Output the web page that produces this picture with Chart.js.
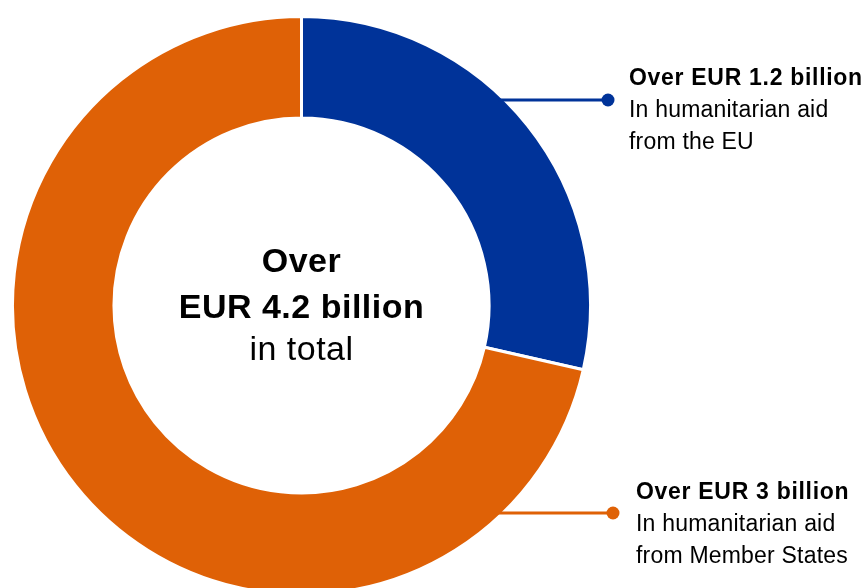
<!DOCTYPE html>
<html>
<head>
<meta charset="utf-8">
<script src="https://cdn.jsdelivr.net/npm/chart.js@4/dist/chart.umd.min.js"></script>
<style>
  html, body { margin: 0; padding: 0; background: #fff; }
  #wrap { width: 867px; height: 588px; position: relative; }
</style>
</head>
<body>
<div id="wrap"><canvas id="c"></canvas></div>
<script>
// ---- data ----
const categories = ["In humanitarian aid from the EU", "In humanitarian aid from Member States"];
const values = [1.2, 3];
const colors = ["#003399", "#df6106"];
const headlines = ["Over EUR 1.2 billion", "Over EUR 3 billion"];
const sublines = [["In humanitarian aid", "from the EU"], ["In humanitarian aid", "from Member States"]];
const centerLines = ["Over", "EUR 4.2 billion", "in total"];

const FONT = "'Liberation Sans', Arial, Helvetica, sans-serif";

const calloutPlugin = {
  id: 'callouts',
  afterDatasetsDraw(chart) {
    const ctx = chart.ctx;
    const meta = chart.getDatasetMeta(0);
    const arc0 = meta.data[0];
    const cx = arc0.x, cy = arc0.y, R = arc0.outerRadius;

    // centre text
    ctx.save();
    ctx.fillStyle = '#000';
    ctx.textAlign = 'center';
    ctx.textBaseline = 'alphabetic';
    ctx.letterSpacing = '0.5px';
    ctx.font = 'bold 34px ' + FONT;
    ctx.fillText(centerLines[0], cx, cy - 34);
    ctx.fillText(centerLines[1], cx, cy + 12);
    ctx.font = '34px ' + FONT;
    ctx.fillText(centerLines[2], cx, cy + 54.5);
    ctx.restore();

    // leader lines + labels
    const lineY = [100, 513];
    const dotX = [608, 613];
    const textX = [629, 636];
    const baseY = [85, 499];
    meta.data.forEach((arc, i) => {
      const y = lineY[i];
      const dy = y - cy;
      const x0 = cx + Math.sqrt(Math.max(R * R - dy * dy, 0)) - 6;
      ctx.save();
      ctx.strokeStyle = colors[i];
      ctx.fillStyle = colors[i];
      ctx.lineWidth = 3;
      ctx.beginPath();
      ctx.moveTo(x0, y);
      ctx.lineTo(dotX[i], y);
      ctx.stroke();
      ctx.beginPath();
      ctx.arc(dotX[i], y, 6.5, 0, Math.PI * 2);
      ctx.fill();
      ctx.fillStyle = '#000';
      ctx.textAlign = 'left';
      ctx.textBaseline = 'alphabetic';
      ctx.letterSpacing = '0.7px';
      ctx.font = 'bold 23px ' + FONT;
      ctx.fillText(headlines[i], textX[i], baseY[i]);
      ctx.letterSpacing = '0.2px';
      ctx.font = '23px ' + FONT;
      sublines[i].forEach((t, k) => {
        ctx.fillText(t, textX[i], baseY[i] + 32 * (k + 1));
      });
      ctx.restore();
    });
  }
};

new Chart(document.getElementById('c'), {
  type: 'doughnut',
  data: {
    labels: categories,
    datasets: [{
      data: values,
      backgroundColor: colors,
      borderColor: '#ffffff',
      borderWidth: 3,
      radius: 289,
      cutout: '64.9%'
    }]
  },
  options: {
    responsive: true,
    maintainAspectRatio: false,
    animation: false,
    layout: { padding: { left: 0, right: 264, top: 23, bottom: 0 } },
    plugins: {
      legend: { display: false },
      tooltip: { enabled: false }
    }
  },
  plugins: [calloutPlugin]
});
</script>
</body>
</html>
